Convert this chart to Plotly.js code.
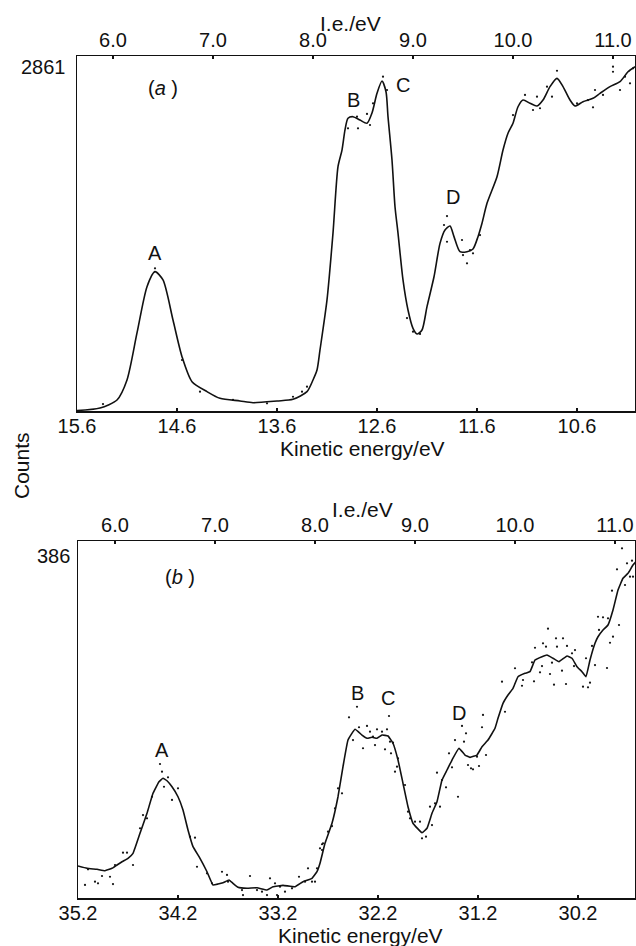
<!DOCTYPE html>
<html>
<head>
<meta charset="utf-8">
<script src="https://cdn.plot.ly/plotly-3.0.1.min.js"></script>
<style>html,body{margin:0;padding:0;background:#fff}#chart{width:636px;height:946px}</style>
</head>
<body>
<div id="chart"></div>
<script>
// ---------- data ----------
const HV_A = 21.24;   // photon energy, panel (a)
const HV_B = 40.83;   // photon energy, panel (b)
const yMaxA = 2861;
const yMaxB = 386;

const keTicksA = [15.6, 14.6, 13.6, 12.6, 11.6, 10.6];
const keTicksB = [35.2, 34.2, 33.2, 32.2, 31.2, 30.2];
const ieTicks  = [6.0, 7.0, 8.0, 9.0, 10.0, 11.0];

const keA  = [15.60,15.37,15.20,15.10,15.00,14.90,14.82,14.74,14.64,14.55,14.45,14.30,14.17,13.97,13.84,13.60,13.44,13.30,13.24,13.20,13.17,13.10,13.04,12.99,12.95,12.92,12.89,12.84,12.77,12.70,12.65,12.60,12.55,12.51,12.49,12.45,12.42,12.39,12.34,12.29,12.24,12.20,12.15,12.10,12.03,11.97,11.92,11.87,11.83,11.77,11.70,11.64,11.59,11.55,11.50,11.40,11.34,11.29,11.24,11.19,11.14,11.07,11.00,10.94,10.87,10.80,10.74,10.67,10.62,10.54,10.44,10.37,10.27,10.17,10.09,10.02];
const cntA = [4,24,89,250,629,1002,1123,1056,733,438,236,156,102,81,67,81,94,156,250,330,492,895,1434,1969,2103,2265,2359,2372,2345,2319,2402,2560,2659,2573,2372,2023,1646,1434,1056,814,666,621,653,841,1082,1351,1459,1491,1405,1284,1284,1306,1405,1513,1674,1888,2103,2238,2319,2452,2506,2480,2458,2506,2614,2681,2614,2506,2458,2493,2520,2560,2614,2654,2734,2775];

const dotKeA  = [12.54,12.50,12.79,12.80,12.70,12.67,12.64,12.89,11.90,11.93,11.90,11.75,11.74,11.70,11.67,11.64,11.57,12.30,12.24,12.17,11.24,11.12,11.04,11.00,10.97,10.90,10.80,10.85,10.60,10.49,10.44,10.42,10.34,10.24,10.24,10.17,10.12,10.07,10.04,14.37,15.34,13.44,13.35,13.30,14.04,13.70,14.82,14.55];
const dotCntA = [2694,2587,2278,2372,2394,2305,2480,2278,1571,1499,1364,1378,1257,1190,1297,1271,1418,749,639,621,2385,2547,2426,2533,2440,2614,2742,2533,2480,2506,2447,2587,2547,2775,2734,2587,2694,2641,2762,156,56,115,156,196,89,62,1150,411];

const keB  = [35.20,35.11,35.01,34.93,34.86,34.81,34.76,34.70,34.65,34.58,34.51,34.45,34.39,34.35,34.31,34.26,34.20,34.15,34.10,34.05,33.98,33.91,33.85,33.80,33.75,33.69,33.65,33.60,33.51,33.41,33.31,33.25,33.15,33.03,32.95,32.86,32.81,32.78,32.73,32.66,32.60,32.55,32.50,32.43,32.36,32.31,32.26,32.21,32.16,32.10,32.05,32.00,31.95,31.90,31.85,31.76,31.71,31.66,31.61,31.56,31.51,31.46,31.39,31.33,31.28,31.21,31.16,31.10,31.03,31.00,30.95,30.90,30.85,30.80,30.73,30.68,30.63,30.56,30.51,30.45,30.39,30.31,30.26,30.21,30.16,30.12,30.08,30.03,30.00,29.95,29.90,29.85,29.80,29.75,29.70,29.65,29.62];
const cntB = [34.6,32.1,31.0,29.5,32.1,35.7,39.2,42.9,48.3,70.0,91.6,113.2,125.7,129.4,126.8,120.3,109.5,95.1,73.5,55.5,42.9,28.4,14.1,15.1,16.5,19.5,15.9,11.6,10.5,11.1,8.6,12.2,13.7,12.2,17.6,21.3,28.4,37.5,59.1,80.8,109.5,142.0,170.8,182.4,176.2,172.7,173.8,172.7,176.2,175.2,167.3,149.2,124.0,98.7,80.8,70.6,75.4,91.6,104.1,127.6,138.4,149.2,161.9,154.6,152.1,154.6,163.6,170.8,183.5,194.3,210.5,219.5,226.7,239.3,242.9,244.7,257.3,260.9,262.7,259.2,255.5,261.7,259.2,250.1,244.7,239.3,257.3,275.4,282.5,289.8,295.2,311.4,333.0,345.7,351.1,360.0,363.6];

const dotKeB  = [30.96,31.15,30.93,30.83,30.76,30.75,30.66,30.64,30.63,30.58,30.56,30.55,30.52,30.50,30.48,30.46,30.44,30.42,30.41,30.36,30.35,30.32,30.31,30.26,30.23,30.24,30.15,30.12,30.10,30.08,30.06,30.03,30.00,29.99,29.95,29.91,29.90,29.88,29.86,29.85,29.81,29.79,29.76,29.73,29.71,29.66,29.68,29.65,
  32.41,32.49,32.09,32.45,32.39,32.31,32.28,32.35,32.25,32.21,32.23,32.16,32.11,32.08,32.13,32.05,32.07,32.01,32.00,32.03,31.93,32.56,32.60,32.63,32.66,32.70,32.75,32.76,31.90,31.88,31.83,31.78,31.76,31.72,31.68,31.66,31.63,31.61,31.58,31.56,31.52,31.49,31.46,31.43,31.40,31.36,31.34,31.32,31.30,31.27,31.25,31.21,31.19,31.16,31.12,
  35.10,35.13,35.03,35.00,34.96,34.88,34.85,34.83,34.75,34.71,34.65,34.58,34.55,34.51,34.46,34.38,34.36,34.34,34.30,34.26,34.20,34.08,34.03,34.01,33.91,33.86,33.76,33.71,33.70,33.56,33.55,33.48,33.41,33.36,33.31,33.28,33.23,33.21,33.18,33.13,33.06,32.99,32.93,32.90,32.86,32.83,32.81,32.78,32.76];
const dotCntB = [233.9,197.9,201.4,248.4,229.5,235.7,254.8,234.3,270.6,244.0,250.8,275.4,271.7,291.2,242.2,254.4,230.6,280.8,271.7,245.8,280.8,231.4,272.5,264.6,268.1,250.8,228.5,259.2,227.8,232.8,272.5,251.9,304.1,289.8,303.5,248.7,302.4,276.0,332.3,282.5,355.4,295.2,378.1,338.4,361.9,364.7,347.4,347.4,
  206.8,195.4,196.8,170.8,184.6,186.0,179.8,161.9,174.4,182.4,165.4,179.8,182.4,169.0,160.8,167.9,156.4,142.0,151.0,136.6,122.2,113.2,118.6,97.0,77.8,71.7,59.1,51.9,93.3,86.2,82.5,82.5,64.5,66.3,98.7,78.9,102.4,135.5,98.7,127.6,119.7,156.4,141.3,170.8,109.5,186.0,169.0,178.1,143.8,140.2,139.1,152.8,142.7,184.6,154.6,
  31.0,14.1,17.6,15.9,23.8,23.0,15.1,35.7,49.0,49.0,35.7,75.4,89.7,86.2,109.5,144.9,136.6,120.3,130.5,106.0,118.6,66.3,65.2,33.8,26.7,15.9,28.4,24.9,17.6,8.6,3.2,23.8,8.6,6.8,3.2,21.3,15.9,3.2,12.2,6.8,10.5,23.0,17.6,32.1,17.6,17.6,32.1,53.7,58.1];

const peakLabels = ['A', 'B', 'C', 'D'];
const peakKeA  = [14.82, 12.84, 12.34, 11.84];
const peakCntA = [1273, 2506, 2627, 1725];
const peakKeB  = [34.36, 32.41, 32.10, 31.39];
const peakCntB = [160, 222, 216, 200];

// ---------- chart ----------
const FONT = 'Liberation Sans, Arial, Helvetica, sans-serif';
const black = '#111';

const traces = [
  {x: dotKeA, y: dotCntA, xaxis: 'x', yaxis: 'y', mode: 'markers', type: 'scatter',
   marker: {size: 2.2, color: black}, hoverinfo: 'skip'},
  {x: keA, y: cntA, xaxis: 'x', yaxis: 'y', mode: 'lines', type: 'scatter',
   line: {color: black, width: 1.6, shape: 'spline', smoothing: 0.7}},
  {x: keA.map(k => HV_A - k), y: cntA, xaxis: 'x2', yaxis: 'y', mode: 'lines', type: 'scatter',
   line: {color: 'rgba(0,0,0,0)', width: 0}, hoverinfo: 'skip'},
  {x: dotKeB, y: dotCntB, xaxis: 'x3', yaxis: 'y2', mode: 'markers', type: 'scatter',
   marker: {size: 2.2, color: black}, hoverinfo: 'skip'},
  {x: keB, y: cntB, xaxis: 'x3', yaxis: 'y2', mode: 'lines', type: 'scatter',
   line: {color: black, width: 1.6, shape: 'spline', smoothing: 0.3}},
  {x: keB.map(k => HV_B - k), y: cntB, xaxis: 'x4', yaxis: 'y2', mode: 'lines', type: 'scatter',
   line: {color: 'rgba(0,0,0,0)', width: 0}, hoverinfo: 'skip'}
];

const W = 636, H = 946;
const domA = {x: [77 / W, 635 / W], y: [1 - 411 / H, 1 - 56 / H]};
const domB = {x: [78 / W, 635 / W], y: [1 - 898 / H, 1 - 541 / H]};
const rangeKeA = [15.6, 10.02];
const rangeKeB = [35.2, 29.63];

const tickFont = {family: FONT, size: 20, color: black};
function keAxis(dom, range, vals, anchor) {
  return {domain: dom, range: range, anchor: anchor, tickmode: 'array', tickvals: vals,
    tickformat: '.1f', ticks: 'inside', ticklen: 3, tickwidth: 1.5, tickcolor: black,
    ticklabelstandoff: -4,
    showline: true, linecolor: black, linewidth: 1.5, showgrid: false, zeroline: false,
    tickfont: tickFont, fixedrange: true};
}
function ieAxis(dom, hv, range, overlay, anchor) {
  return {domain: dom, range: [hv - range[0], hv - range[1]], overlaying: overlay, side: 'top',
    anchor: anchor, tickmode: 'array', tickvals: ieTicks, tickformat: '.1f',
    ticks: 'inside', ticklen: 3, tickwidth: 1.5, tickcolor: black,
    showline: true, linecolor: black, linewidth: 1.5, showgrid: false, zeroline: false,
    tickfont: tickFont, fixedrange: true};
}
function yAxis(dom, ymax, anchor) {
  return {domain: dom, range: [0, ymax], anchor: anchor, showticklabels: false, ticks: '',
    showline: true, mirror: true, linecolor: black, linewidth: 1.5, showgrid: false,
    zeroline: false, fixedrange: true};
}

const annotations = [];
function txt(text, x, y, opts) {
  annotations.push(Object.assign({text: text, x: x, y: y, xref: 'paper', yref: 'paper',
    xanchor: 'center', yanchor: 'middle',
    showarrow: false, font: {family: FONT, size: 21, color: black}}, opts || {}));
}
// axis titles
txt('I.e./eV', 350 / W, 1 - 24 / H);
txt('I.e./eV', 362 / W, 1 - 509 / H);
txt('Kinetic energy/eV', 362 / W, 1 - 449 / H);
txt('Kinetic energy/eV', 360 / W, 1 - 935 / H);
txt('Counts', 21 / W, 1 - 466 / H, {textangle: -90});
txt(String(yMaxA), 68 / W, 1 - 67 / H, {xanchor: 'right', font: {family: FONT, size: 20, color: black}});
txt(String(yMaxB), 72 / W, 1 - 556 / H, {xanchor: 'right', font: {family: FONT, size: 20, color: black}});
txt('(<i>a</i> )', 163 / W, 1 - 88 / H, {font: {family: FONT, size: 20, color: black}});
txt('(<i>b</i> )', 180 / W, 1 - 577 / H, {font: {family: FONT, size: 20, color: black}});
// peak letters
peakLabels.forEach((lab, i) => {
  annotations.push({text: lab, x: peakKeA[i], y: peakCntA[i], xref: 'x', yref: 'y',
    xanchor: 'center', yanchor: 'middle',
    showarrow: false, font: {family: FONT, size: 20, color: black}});
  annotations.push({text: lab, x: peakKeB[i], y: peakCntB[i], xref: 'x3', yref: 'y2',
    xanchor: 'center', yanchor: 'middle',
    showarrow: false, font: {family: FONT, size: 20, color: black}});
});

const layout = {
  width: W, height: H, margin: {l: 0, r: 0, t: 0, b: 0},
  paper_bgcolor: '#fff', plot_bgcolor: '#fff', showlegend: false,
  font: {family: FONT, color: black},
  xaxis: keAxis(domA.x, rangeKeA, keTicksA, 'y'),
  xaxis2: ieAxis(domA.x, HV_A, rangeKeA, 'x', 'y'),
  yaxis: yAxis(domA.y, yMaxA, 'x'),
  xaxis3: keAxis(domB.x, rangeKeB, keTicksB, 'y2'),
  xaxis4: ieAxis(domB.x, HV_B, rangeKeB, 'x3', 'y2'),
  yaxis2: yAxis(domB.y, yMaxB, 'x3'),
  annotations: annotations
};

Plotly.newPlot('chart', traces, layout, {displayModeBar: false, staticPlot: true});
</script>
</body>
</html>
